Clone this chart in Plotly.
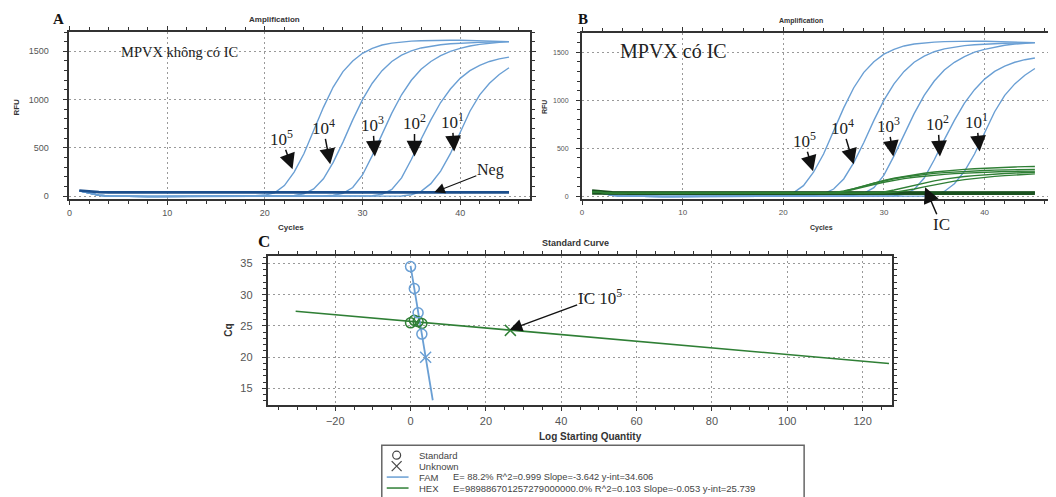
import plotly.graph_objects as go

# page pixels; the page body has an 8px margin, so the figure is drawn 8px in
PAGE_W, PAGE_H = 1056, 497
OFF = 8
W, H = PAGE_W - OFF, PAGE_H - OFF

# ---------------- data ----------------
cycles = list(range(1, 46))

rfu_1e5 = [55, 30, 10, 3, 0, -2, -3, -3, -3, -2, -2, -2, -1, -1, 0, 0, 1, 2, 5, 12,
           35, 110, 250, 440, 680, 920, 1130, 1290, 1400, 1480, 1530, 1565, 1585, 1598, 1605,
           1610, 1613, 1615, 1615, 1614, 1612, 1610, 1607, 1603, 1600]
rfu_1e4 = [55, 30, 10, 3, 0, -2, -3, -3, -3, -2, -2, -2, -1, -1, 0, 0, 0, 1, 1, 2,
           2, 3, 8, 25, 75, 180, 350, 560, 790, 1000, 1170, 1300, 1395, 1460, 1505,
           1535, 1555, 1568, 1578, 1585, 1590, 1593, 1596, 1598, 1600]
rfu_1e3 = [55, 30, 10, 3, 0, -2, -3, -3, -3, -2, -2, -2, -1, -1, 0, 0, 0, 0, 0, 1,
           1, 1, 2, 2, 2, 3, 10, 30, 90, 220, 420, 640, 860, 1050, 1200,
           1315, 1395, 1455, 1500, 1530, 1555, 1572, 1585, 1594, 1600]
rfu_1e2 = [55, 30, 10, 3, 0, -2, -3, -3, -3, -2, -2, -2, -1, -1, 0, 0, 0, 0, 0, 0,
           0, 1, 1, 1, 1, 2, 2, 2, 3, 3, 5, 20, 70, 190, 380,
           590, 790, 970, 1110, 1220, 1300, 1355, 1395, 1422, 1440]
rfu_1e1 = [55, 30, 10, 3, 0, -2, -3, -3, -3, -2, -2, -2, -1, -1, 0, 0, 0, 0, 0, 0,
           0, 0, 0, 1, 1, 1, 1, 1, 2, 2, 2, 2, 2, 3, 15,
           50, 130, 260, 440, 660, 880, 1050, 1170, 1260, 1330]
rfu_neg = [60, 48, 42, 40, 40, 40, 40, 40, 40, 40, 40, 40, 40, 40, 40, 40, 40, 40, 40, 40,
           40, 40, 40, 40, 40, 40, 40, 40, 40, 40, 40, 40, 40, 40, 40,
           40, 40, 40, 40, 40, 40, 40, 40, 40, 40]

# HEX (internal control) curves, panel B
hex_1 = [45, 35, 32, 30, 30, 30, 30, 30, 30, 30, 30, 30, 30, 30, 30, 30, 30, 30, 30, 30,
         30, 30, 30, 30, 38, 55, 80, 110, 140, 165, 188, 208, 225, 240, 252,
         263, 272, 280, 287, 293, 298, 302, 305, 308, 310]
hex_2 = [45, 35, 32, 30, 30, 30, 30, 30, 30, 30, 30, 30, 30, 30, 30, 30, 30, 30, 30, 30,
         30, 30, 30, 30, 35, 50, 75, 105, 135, 160, 182, 200, 215, 228, 238,
         246, 253, 259, 264, 268, 272, 275, 277, 279, 280]
hex_3 = [45, 35, 32, 30, 30, 30, 30, 30, 30, 30, 30, 30, 30, 30, 30, 30, 30, 30, 30, 30,
         30, 30, 30, 30, 33, 45, 68, 95, 122, 146, 166, 184, 198, 210, 220,
         228, 235, 241, 246, 250, 254, 257, 259, 261, 262]
hex_4 = [45, 35, 32, 30, 30, 30, 30, 30, 30, 30, 30, 30, 30, 30, 30, 30, 30, 30, 30, 30,
         30, 30, 30, 30, 30, 30, 30, 33, 38, 45, 65, 90, 115, 140, 160,
         178, 193, 205, 215, 224, 231, 237, 242, 246, 250]
hex_5 = [45, 35, 32, 30, 30, 30, 30, 30, 30, 30, 30, 30, 30, 30, 30, 30, 30, 30, 30, 30,
         30, 30, 30, 30, 30, 30, 30, 30, 31, 34, 40, 55, 75, 98, 120,
         140, 158, 173, 186, 197, 207, 215, 222, 228, 233]
hex_neg = [35, 32, 30, 30, 30, 30, 30, 30, 30, 30, 30, 30, 30, 30, 30, 30, 30, 30, 30, 30,
           30, 30, 30, 30, 30, 30, 30, 30, 30, 30, 30, 30, 30, 30, 30,
           30, 30, 30, 30, 30, 30, 30, 30, 30, 30]

amp_labels = ["10<sup>5</sup>", "10<sup>4</sup>", "10<sup>3</sup>", "10<sup>2</sup>", "10<sup>1</sup>"]

# Standard curve (panel C)
fam_std_x = [0, 1, 2, 3]
fam_std_cq = [34.5, 31.0, 27.1, 23.7]
fam_unk_x = [4.0]
fam_unk_cq = [20.0]
fam_line_x = [0, 5.9]
fam_line_cq = [34.61, 13.12]
hex_std_x = [0, 1, 2, 3]
hex_std_cq = [25.5, 25.9, 25.7, 25.4]
hex_unk_x = [26.5]
hex_unk_cq = [24.3]
hex_line_x = [-30.5, 127]
hex_line_cq = [27.36, 19.01]

legend_fam = "E= 88.2% R^2=0.999 Slope=-3.642 y-int=34.606"
legend_hex = "E=989886701257279000000.0% R^2=0.103 Slope=-0.053 y-int=25.739"

# ---------------- styles ----------------
BLUE = "#6a9fd4"
NAVY = "#1d4f8c"
GREEN = "#2f7f35"
DKGREEN = "#1b5220"
SANS = "Liberation Sans, Arial, sans-serif"
SERIF = "Liberation Serif, Times New Roman, serif"


def px(x):
    return (x - OFF) / W


def py(y):
    return 1 - (y - OFF) / H


fig = go.Figure()

curves = [rfu_1e5, rfu_1e4, rfu_1e3, rfu_1e2, rfu_1e1]
for xa, ya in [("x", "y"), ("x2", "y2")]:
    for c in curves:
        fig.add_trace(go.Scatter(x=cycles, y=c, mode="lines", line=dict(color=BLUE, width=1.4),
                                 xaxis=xa, yaxis=ya, showlegend=False, hoverinfo="skip"))

fig.add_trace(go.Scatter(x=cycles, y=rfu_neg, mode="lines", line=dict(color=NAVY, width=2.6),
                         xaxis="x", yaxis="y", showlegend=False))
fig.add_trace(go.Scatter(x=cycles, y=hex_neg, mode="lines", line=dict(color=DKGREEN, width=3.5),
                         xaxis="x2", yaxis="y2", showlegend=False))
fig.add_trace(go.Scatter(x=cycles, y=rfu_neg, mode="lines", line=dict(color=DKGREEN, width=2.5),
                         xaxis="x2", yaxis="y2", showlegend=False))
for hc in [hex_1, hex_2, hex_3, hex_4, hex_5]:
    fig.add_trace(go.Scatter(x=cycles, y=hc, mode="lines", line=dict(color=GREEN, width=1.4),
                             xaxis="x2", yaxis="y2", showlegend=False))

# Panel C
fig.add_trace(go.Scatter(x=hex_line_x, y=hex_line_cq, mode="lines", line=dict(color=GREEN, width=1.6),
                         xaxis="x3", yaxis="y3", showlegend=False))
fig.add_trace(go.Scatter(x=fam_line_x, y=fam_line_cq, mode="lines", line=dict(color=BLUE, width=1.8),
                         xaxis="x3", yaxis="y3", showlegend=False))
fig.add_trace(go.Scatter(x=hex_std_x, y=hex_std_cq, mode="markers",
                         marker=dict(symbol="circle-open", size=10, color=GREEN, line=dict(width=1.5)),
                         xaxis="x3", yaxis="y3", showlegend=False))
fig.add_trace(go.Scatter(x=fam_std_x, y=fam_std_cq, mode="markers",
                         marker=dict(symbol="circle-open", size=10, color=BLUE, line=dict(width=1.5)),
                         xaxis="x3", yaxis="y3", showlegend=False))
fig.add_trace(go.Scatter(x=fam_unk_x, y=fam_unk_cq, mode="markers",
                         marker=dict(symbol="x-thin-open", size=11, color=BLUE, line=dict(width=1.5, color=BLUE)),
                         xaxis="x3", yaxis="y3", showlegend=False))
fig.add_trace(go.Scatter(x=hex_unk_x, y=hex_unk_cq, mode="markers",
                         marker=dict(symbol="x-thin-open", size=11, color=GREEN, line=dict(width=1.5, color=GREEN)),
                         xaxis="x3", yaxis="y3", showlegend=False))


def axis_style(domain, rng, dtick, minor_dtick, fs, anchor, tick0=0, standoff=0):
    return dict(domain=domain, range=rng, dtick=dtick, tick0=tick0, showline=True, linewidth=2,
                linecolor="#333", mirror="ticks", ticks="outside", ticklen=4, tickwidth=1.2,
                tickcolor="#333", showgrid=True, gridcolor="#999", griddash="2px,3px", gridwidth=1,
                zeroline=False, tickfont=dict(family=SANS, size=fs, color="#555"), anchor=anchor,
                ticklabelstandoff=standoff,
                minor=dict(dtick=minor_dtick, ticks="outside", ticklen=3, tickwidth=1,
                           tickcolor="#333", showgrid=False))


fig.update_layout(
    width=W, height=H, margin=dict(l=0, r=0, t=0, b=0),
    paper_bgcolor="white", plot_bgcolor="white", showlegend=False,
    xaxis=axis_style([px(67), px(531)], [0, 47.1], 10, 2, 9, "y"),
    yaxis=axis_style([py(200), py(32)], [-31, 1701], 500, 100, 9, "x", standoff=13),
    xaxis2=axis_style([px(584), px(1056)], [0, 46.5], 10, 2, 8, "y2"),
    yaxis2=axis_style([py(200), py(33)], [-31, 1701], 500, 100, 7, "x2", standoff=6),
    xaxis3=axis_style([px(267), px(897)], [-37.9, 127.9], 20, 5, 11, "y3"),
    yaxis3=axis_style([py(407), py(257)], [12.3, 36.2], 5, 1, 11, "x3", tick0=15, standoff=7),
)

ann = []


def text(x, y, s, size, family=SANS, color="#333", bold=False, angle=0, xanchor="center"):
    if bold:
        s = "<b>" + s + "</b>"
    ann.append(dict(x=px(x), y=py(y), xref="paper", yref="paper", text=s, showarrow=False,
                    font=dict(family=family, size=size, color=color), textangle=angle,
                    xanchor=xanchor, yanchor="middle"))


def arrow_label(label_xy, tip, s, size, width=1.5, asize=2.1):
    ann.append(dict(x=px(tip[0]), y=py(tip[1]), xref="paper", yref="paper", text=s,
                    font=dict(family=SERIF, size=size, color="#222"),
                    showarrow=True, arrowhead=2, arrowsize=asize, arrowwidth=width, arrowcolor="#111",
                    ax=label_xy[0] - tip[0], ay=label_xy[1] - tip[1], standoff=0, borderpad=0))


# Panel letters and titles
text(56, 19, "A", 15, SERIF, "#111", bold=True)
text(585, 19, "B", 15, SERIF, "#111", bold=True)
text(263, 242, "C", 17, SERIF, "#111", bold=True)
text(274, 20, "Amplification", 8, SANS, "#333", bold=True)
text(805, 21, "Amplification", 7, SANS, "#333", bold=True)
text(290, 228, "Cycles", 8, SANS, "#333", bold=True)
text(826, 229, "Cycles", 7, SANS, "#333", bold=True)
text(14, 107, "RFU", 8, SANS, "#333", bold=True, angle=-90)
text(546, 107, "RFU", 7, SANS, "#333", bold=True, angle=-90)
text(577, 244, "Standard Curve", 9, SANS, "#333", bold=True)
text(228, 332, "Cq", 10, SANS, "#333", bold=True, angle=-90)
text(593, 438, "Log Starting Quantity", 10, SANS, "#333", bold=True)

text(178, 52, "MPVX không có IC", 14.5, SERIF, "#222")
text(676, 51, "MPVX có IC", 20, SERIF, "#222")

# dilution labels with arrows (panel A)
a_lab = [(281, 139), (323, 128), (373, 125), (415, 123), (453, 122)]
a_tip = [(292, 170), (330, 165), (375, 157), (415, 157), (455, 152)]
for lab_xy, tip, lab in zip(a_lab, a_tip, amp_labels):
    arrow_label(lab_xy, tip, lab, 17)
arrow_label((491, 171), (435, 193), "Neg", 16, width=1.1, asize=1.9)

# panel B
b_lab = [(808, 141), (847, 128), (893, 126), (943, 124), (982, 122)]
b_tip = [(817, 172), (858, 165), (898, 157), (945, 157), (985, 152)]
for lab_xy, tip, lab in zip(b_lab, b_tip, amp_labels):
    arrow_label(lab_xy, tip, lab, 17)
arrow_label((946, 225), (930, 188), "IC", 17)

# panel C
arrow_label((601, 298), (511, 331), "IC 10<sup>5</sup>", 17, width=1.4, asize=1.8)


def pline(x0, y0, x1, y1, color, width):
    return dict(type="line", xref="paper", yref="paper", x0=px(x0), x1=px(x1), y0=py(y0), y1=py(y1),
                line=dict(color=color, width=width))


# legend box (manual)
shapes = [dict(type="rect", xref="paper", yref="paper", x0=px(382), x1=px(808), y0=py(505), y1=py(447),
               line=dict(color="#666", width=1.5), fillcolor="white", layer="above"),
          dict(type="circle", xref="paper", yref="paper", x0=px(393), x1=px(401), y0=py(461), y1=py(453),
               line=dict(color="#444", width=1.2)),
          pline(392, 463, 402, 473, "#444", 1.2),
          pline(392, 473, 402, 463, "#444", 1.2),
          pline(387, 479, 409, 479, BLUE, 1.5),
          pline(387, 490, 409, 490, GREEN, 1.5)]
text(418, 457, "Standard", 9.5, SANS, "#444", xanchor="left")
text(418, 468, "Unknown", 9.5, SANS, "#444", xanchor="left")
text(418, 479, "FAM", 9.5, SANS, "#444", xanchor="left")
text(418, 490, "HEX", 9.5, SANS, "#444", xanchor="left")
text(452, 479, legend_fam, 9.3, SANS, "#444", xanchor="left")
text(452, 490, legend_hex, 9.5, SANS, "#444", xanchor="left")

fig.update_layout(annotations=ann, shapes=shapes)
fig.write_html("out.html")
